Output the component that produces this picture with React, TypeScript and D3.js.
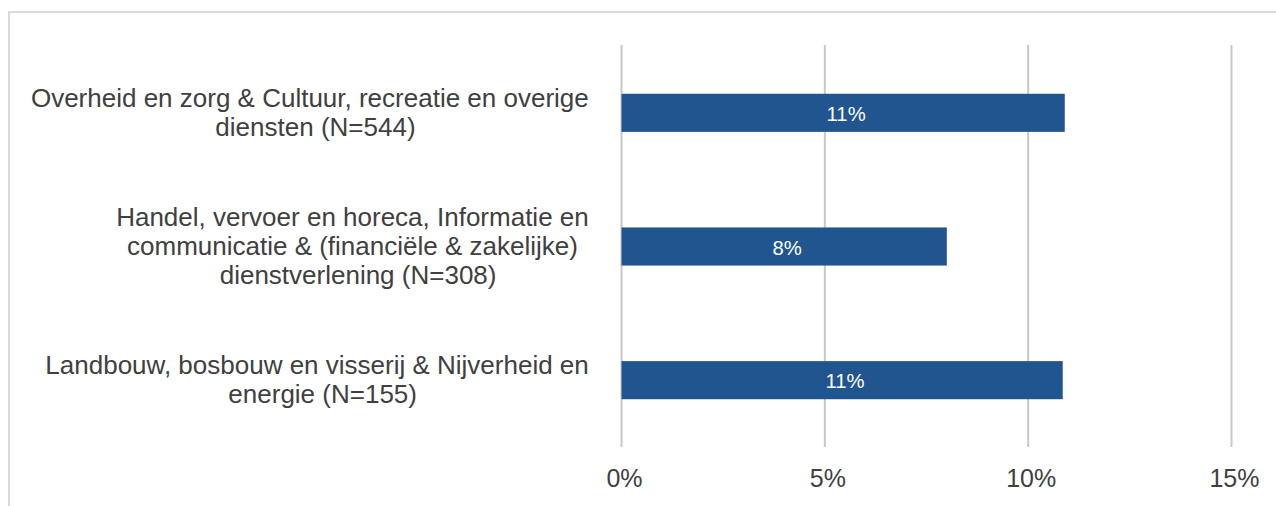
import React, { useEffect, useRef } from "react";
import * as d3 from "d3";

const categories: string[][] = [
  ["Overheid en zorg & Cultuur, recreatie en overige", "diensten (N=544)"],
  ["Handel, vervoer en horeca, Informatie en", "communicatie & (financiële & zakelijke)", "dienstverlening (N=308)"],
  ["Landbouw, bosbouw en visserij & Nijverheid en", "energie (N=155)"],
];
const values: number[] = [10.9, 8.0, 10.85];
const barLabels: string[] = ["11%", "8%", "11%"];
const ticks: number[] = [0, 5, 10, 15];

const W = 1276;
const H = 506;
const FONT = "'Liberation Sans', Arial, sans-serif";
const TEXT = "#404040";

export default function App() {
  const ref = useRef<SVGSVGElement | null>(null);

  useEffect(() => {
    const svg = d3.select(ref.current);
    svg.selectAll("*").remove();

    svg.append("rect").attr("width", W).attr("height", H).attr("fill", "#fff");
    svg.append("rect")
      .attr("x", 9).attr("y", 12).attr("width", W + 50).attr("height", H + 50)
      .attr("fill", "none").attr("stroke", "#d9d9d9").attr("stroke-width", 2);

    const x = d3.scaleLinear().domain([0, 15]).range([621.5, 1231.5]);
    const idx = categories.map((_, i) => String(i));
    const y = d3.scaleBand<string>().domain(idx).range([46, 447]).paddingInner(0.715).paddingOuter(0.3575);

    // gridlines
    svg.append("g").selectAll("line").data(ticks).join("line")
      .attr("x1", (d) => x(d)).attr("x2", (d) => x(d))
      .attr("y1", 45).attr("y2", 447)
      .attr("stroke", "#c8c8c8").attr("stroke-width", 2);

    // bars
    svg.append("g").selectAll("rect").data(values).join("rect")
      .attr("x", x(0))
      .attr("y", (_, i) => y(String(i))!)
      .attr("width", (d) => x(d) - x(0))
      .attr("height", y.bandwidth())
      .attr("fill", "#215590");

    // bar labels
    svg.append("g").selectAll("text").data(values).join("text")
      .attr("x", (d) => (x(0) + x(d)) / 2 + 3)
      .attr("y", (_, i) => y(String(i))! + y.bandwidth() / 2 + 8)
      .attr("text-anchor", "middle")
      .attr("font-family", FONT).attr("font-size", 20.3)
      .attr("fill", "#ffffff")
      .text((_, i) => barLabels[i]);

    // tick labels
    svg.append("g").selectAll("text").data(ticks).join("text")
      .attr("x", (d) => x(d) + 3)
      .attr("y", 487)
      .attr("text-anchor", "middle")
      .attr("font-family", FONT).attr("font-size", 25)
      .attr("fill", TEXT)
      .text((d) => `${d}%`);

    // category labels (wrapped lines keep a trailing space, centred as a block)
    const right = 596;
    const lineH = 29;
    const fs = 26;
    const spaceW = 0.278 * fs;
    categories.forEach((lines, i) => {
      const cy = y(String(i))! + y.bandwidth() / 2;
      const g = svg.append("g");
      const last = lines.length - 1;
      const texts = g.selectAll("text").data(lines).join("text")
        .attr("font-family", FONT).attr("font-size", fs)
        .attr("fill", TEXT)
        .attr("text-anchor", "middle")
        .attr("y", (_, j) => cy - ((lines.length - 1) * lineH) / 2 + j * lineH + 8.8)
        .text((d) => d);
      let maxW = 0;
      texts.each(function (_, j) {
        const w = (this as SVGTextElement).getComputedTextLength() + (j < last ? spaceW : 0);
        if (w > maxW) maxW = w;
      });
      const c = right - maxW / 2;
      texts.attr("x", (_, j) => (j < last ? c - spaceW / 2 : c + 2));
    });
  }, []);

  return (
    <div style={{ position: "absolute", left: 0, top: 0 }}>
      <svg ref={ref} width={W} height={H} style={{ display: "block" }} />
    </div>
  );
}
